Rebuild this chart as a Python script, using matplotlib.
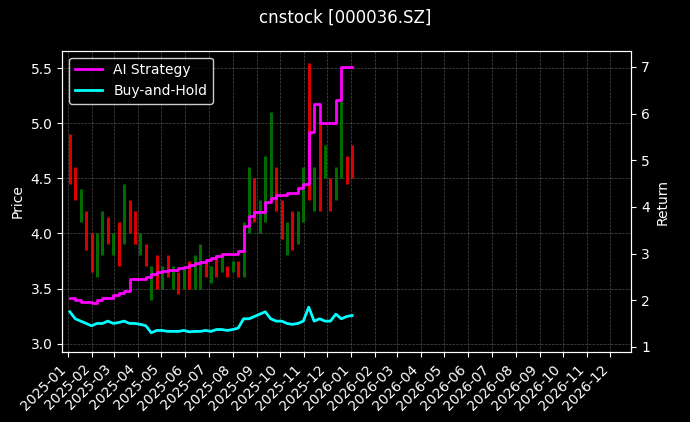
import matplotlib
matplotlib.use("Agg")
import matplotlib.pyplot as plt
import matplotlib.dates as mdates
import pandas as pd

plt.style.use("dark_background")

dates = pd.date_range("2025-01-03", periods=53, freq="7D")
low = [4.45,4.3,4.1,3.85,3.65,3.6,3.8,3.9,3.8,3.7,3.9,4.0,3.9,3.8,3.7,3.4,
       3.5,3.5,3.6,3.5,3.45,3.5,3.5,3.5,3.5,3.6,3.55,3.6,3.65,3.6,3.65,3.6,
       3.6,4.0,4.1,4.0,4.1,4.3,4.2,3.95,3.8,3.85,3.9,4.1,4.3,4.2,4.2,4.5,
       4.2,4.3,4.5,4.45,4.5]
high = [4.9,4.6,4.4,4.2,4.0,4.0,4.2,4.15,4.0,4.1,4.45,4.3,4.2,4.0,3.9,3.7,
        3.8,3.7,3.8,3.7,3.65,3.7,3.75,3.8,3.9,3.75,3.7,3.8,3.8,3.7,3.75,3.75,
        4.1,4.6,4.5,4.3,4.7,5.1,4.6,4.3,4.1,4.2,4.2,4.6,5.55,4.6,5.0,4.8,
        4.5,4.6,5.2,4.7,4.8]
up = [0,0,1,0,0,1,1,0,1,0,1,0,0,1,0,1,0,1,0,1,0,1,0,1,1,0,1,0,1,0,1,0,
      1,1,0,1,1,1,0,0,1,0,1,1,0,1,0,1,0,1,1,0,0]
ai_ret = [2.05,2.0,1.97,1.95,1.93,2.0,2.05,2.05,2.1,2.15,2.2,2.45,2.45,2.45,2.5,2.55,
          2.6,2.62,2.65,2.65,2.68,2.7,2.75,2.8,2.82,2.85,2.9,2.95,3.0,3.0,3.0,3.05,
          3.6,3.8,3.9,3.9,4.1,4.2,4.25,4.25,4.3,4.3,4.4,4.5,5.6,6.2,5.8,5.8,
          5.8,6.3,7.0,7.0,7.0]
bh_ret = [1.75,1.6,1.55,1.5,1.45,1.5,1.5,1.55,1.5,1.52,1.55,1.5,1.5,1.48,1.45,1.3,
          1.35,1.35,1.33,1.33,1.33,1.35,1.32,1.33,1.33,1.35,1.33,1.37,1.37,1.35,1.37,1.4,
          1.6,1.6,1.65,1.7,1.75,1.6,1.55,1.55,1.5,1.48,1.5,1.55,1.85,1.55,1.6,1.55,
          1.55,1.7,1.6,1.65,1.67]

fig, ax = plt.subplots(figsize=(6.9, 4.22), dpi=100)
fig.patch.set_facecolor("black")
ax.set_facecolor("black")
for d, lo, hi, u in zip(dates, low, high, up):
    ax.vlines(d, lo, hi, color=("green" if u else "red"), linewidth=2.2, alpha=0.85)
ax.set_ylabel("Price")
ax.set_ylim(2.92, 5.66)
ax.grid(True, color="gray", linestyle="--", linewidth=0.5, alpha=0.6)

ax2 = ax.twinx()
l1, = ax2.plot(dates, ai_ret, color="magenta", linewidth=2, label="AI Strategy", drawstyle="steps-post")
l2, = ax2.plot(dates, bh_ret, color="cyan", linewidth=2, label="Buy-and-Hold")
ax2.set_ylim(0.88, 7.35)
ax2.set_ylabel("Return")
ax2.legend(handles=[l1, l2], loc="upper left", facecolor="black", edgecolor="white")

ax.set_xlim(pd.Timestamp("2024-12-24"), pd.Timestamp("2026-12-28"))
ax.xaxis.set_major_locator(mdates.MonthLocator())
ax.xaxis.set_major_formatter(mdates.DateFormatter("%Y-%m"))
plt.setp(ax.get_xticklabels(), rotation=45, ha="right")
fig.suptitle("cnstock [000036.SZ]")
fig.subplots_adjust(left=0.09, right=0.915, top=0.88, bottom=0.165)
fig.savefig("out.png", dpi=100, facecolor="black")
